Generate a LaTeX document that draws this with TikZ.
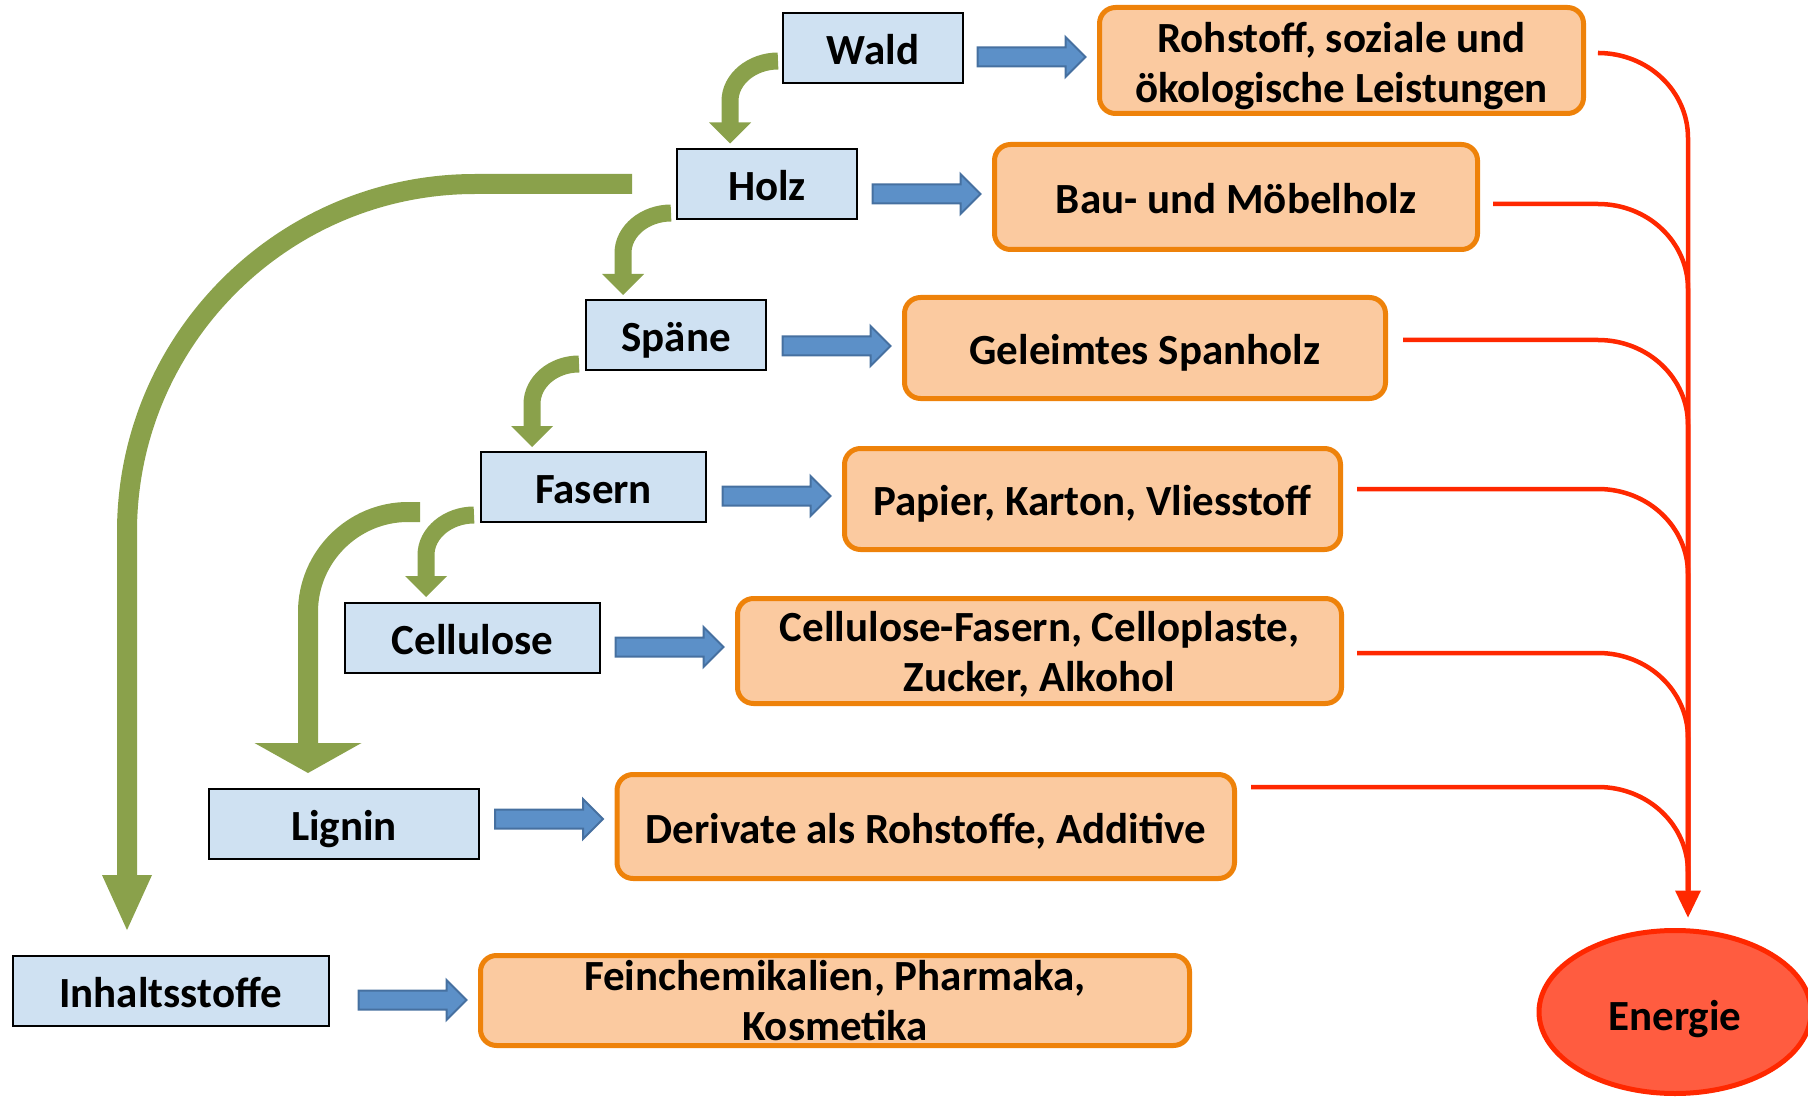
\documentclass[tikz,border=0pt]{standalone}
\usepackage{fontspec}
\setmainfont{Carlito}
\usetikzlibrary{calc,shapes.geometric}
\definecolor{boxblue}{RGB}{207,225,242}
\definecolor{arrblue}{RGB}{92,144,200}
\definecolor{arrblueline}{RGB}{70,112,160}
\definecolor{leaf}{RGB}{138,161,75}
\definecolor{orfill}{RGB}{251,202,160}
\definecolor{orline}{RGB}{238,130,10}
\definecolor{redline}{RGB}{255,40,0}
\definecolor{enfill}{RGB}{255,92,64}
\tikzset{
  bluebox/.style={draw=black, line width=2pt, fill=boxblue, inner sep=0pt, outer sep=0pt, minimum height=70pt, text height=33pt, text depth=0pt},
  orbox/.style={draw=orline, line width=5pt, fill=orfill, rounded corners=16pt, inner sep=0pt, outer sep=0pt},
  oneline/.style={text height=33pt, text depth=0pt},
  twoline/.style={text height=0pt, text depth=#1},
  greenband/.style={draw=leaf, line width=17pt},
  bigband/.style={draw=leaf, line width=20pt},
  redconn/.style={draw=redline, line width=4.5pt},
  bluearrstyle/.style={fill=arrblue, draw=arrblueline, line width=2pt, line join=miter},
}
\newcommand\twolines[2]{\begin{tabular}[t]{@{}c@{}}#1\\#2\end{tabular}}
\newcommand\bluearr[1]{\filldraw[bluearrstyle] let \p1=(#1) in (\p1) -- (\x1-20pt,\y1+20pt) -- (\x1-20pt,\y1+9.5pt) -- (\x1-108pt,\y1+9.5pt) -- (\x1-108pt,\y1-9.5pt) -- (\x1-20pt,\y1-9.5pt) -- (\x1-20pt,\y1-20pt) -- cycle;}
\newcommand\smallgreen[2]{%
  \draw[greenband] let \p1=(#1), \p2=(#2) in (\p1) .. controls (\x1-26pt,\y1) and (\x2,\y1-18pt) .. (\x2,\y1-40pt) -- (\x2,\y2+20pt);
  \fill[leaf] let \p2=(#2) in (\p2) -- (\x2-21pt,\y2+21pt) -- (\x2+21pt,\y2+21pt) -- cycle;}
\newcommand\energyline[2]{\draw[redconn] ($(#1.east)+(#2)$) coordinate (s-#1) -- (s-#1 -| bendx) .. controls +(50,0) and +(0,-47) .. ($(s-#1 -| trunk)+(0,85)$) -- (ebase);}
\begin{document}
\begin{tikzpicture}[x=1pt, y=-1pt, font=\fontsize{43}{50}\selectfont\bfseries]
\useasboundingbox (0,0) rectangle (1808,1099);
% blue boxes
\node[bluebox, minimum width=180pt] (wald) at (873,48.5) {Wald};
\node[bluebox, minimum width=180pt] (holz) at (767,184.5) {Holz};
\node[bluebox, minimum width=180pt] (spaene) at (676,335) {Späne};
\node[bluebox, minimum width=225pt] (fasern) at (593.5,486.5) {Fasern};
\node[bluebox, minimum width=255pt] (cellulose) at (472.5,637.5) {Cellulose};
\node[bluebox, minimum width=270pt] (lignin) at (344,824) {Lignin};
\node[bluebox, minimum width=316pt] (inhalts) at (170.5,990.5) {Inhaltsstoffe};
% orange boxes
\node[orbox, twoline=16pt, minimum width=484pt, minimum height=106pt] (rohstoff) at (1341.5,60.5) {\twolines{Rohstoff, soziale und}{ökologische Leistungen}};
\node[orbox, oneline, minimum width=483pt, minimum height=105pt] (bau) at (1236,197) {Bau- und Möbelholz};
\node[orbox, oneline, minimum width=481pt, minimum height=101pt] (geleimtes) at (1145,348) {Geleimtes Spanholz};
\node[orbox, oneline, minimum width=496pt, minimum height=101pt] (papier) at (1092.5,499) {Papier, Karton, Vliesstoff};
\node[orbox, twoline=20pt, minimum width=604pt, minimum height=105pt] (cellfas) at (1039.5,651) {\twolines{Cellulose-Fasern, Celloplaste,}{Zucker, Alkohol}};
\node[orbox, oneline, minimum width=617.5pt, minimum height=104pt] (derivate) at (925.75,826.5) {Derivate als Rohstoffe, Additive};
\node[orbox, twoline=20pt, minimum width=709pt, minimum height=90pt] (feinchem) at (835,1000.5) {\twolines{Feinchemikalien, Pharmaka,}{Kosmetika}};
% energy
\node[ellipse, draw=redline, fill=enfill, line width=5pt, inner sep=0pt, outer sep=0pt, minimum width=272pt, minimum height=163pt, text height=37pt, text depth=0pt] (energie) at (1675,1012) {Energie};
% blue arrows
\bluearr{$(rohstoff.west)+(-14,-3.5)$}
\bluearr{$(bau.west)+(-14,-3)$}
\bluearr{$(geleimtes.west)+(-14,-2)$}
\bluearr{$(papier.west)+(-14,-3)$}
\bluearr{$(cellfas.west)+(-14,-4)$}
\bluearr{$(derivate.west)+(-14,-7.5)$}
\bluearr{$(feinchem.west)+(-14,-0.5)$}
% small green arrows
\smallgreen{$(wald.west)+(-5,12.5)$}{$(holz.north west)+(53,-6)$}
\smallgreen{$(holz.west)+(-6,28.5)$}{$(spaene.north west)+(37,-5)$}
\smallgreen{$(spaene.west)+(-7,29)$}{$(fasern.north west)+(51,-4.5)$}
\smallgreen{$(fasern.west)+(-7,28.5)$}{$(cellulose.north west)+(81,-5.5)$}
% big green arrows
\draw[bigband] let \p1=($(holz.west)+(-45,-0.5)$), \p2=($(inhalts.north west)+(114.5,-25.5)$) in
  (\p1) -- (\x2+348pt,\y1) .. controls (\x2+156pt,\y1) and (\x2,\y1-156pt) .. (\x2,\y1-348pt) -- (\x2,\y2+54pt);
\fill[leaf] let \p2=($(inhalts.north west)+(114.5,-25.5)$) in (\p2) -- (\x2-25pt,\y2+55pt) -- (\x2+25pt,\y2+55pt) -- cycle;
\draw[bigband] let \p1=($(fasern.west)+(-61,25.5)$), \p2=($(lignin.north west)+(99,-16)$) in
  (\p1) -- (\x2+100pt,\y1) .. controls (\x2+45pt,\y1) and (\x2,\y1-45pt) .. (\x2,\y1-100pt) -- (\x2,\y2+29pt);
\fill[leaf] let \p2=($(lignin.north west)+(99,-16)$) in (\p2) -- (\x2-53.5pt,\y2+30pt) -- (\x2+53.5pt,\y2+30pt) -- cycle;
% red connectors to energy
\coordinate (bendx) at (1598,0);
\coordinate (trunk) at (1688,0);
\coordinate (etip) at ($(energie.north)+(13,-13)$);
\coordinate (ebase) at ($(etip)+(0,-27)$);
\energyline{rohstoff}{15.5,-7.5}
\energyline{bau}{15.5,7}
\energyline{geleimtes}{17.5,-8}
\energyline{papier}{16.5,-10}
\energyline{cellfas}{15.5,2}
\energyline{derivate}{16.5,-39.5}
\fill[redline] (etip) -- ($(ebase)+(-13,0)$) -- ($(ebase)+(13,0)$) -- cycle;
\end{tikzpicture}
\end{document}
